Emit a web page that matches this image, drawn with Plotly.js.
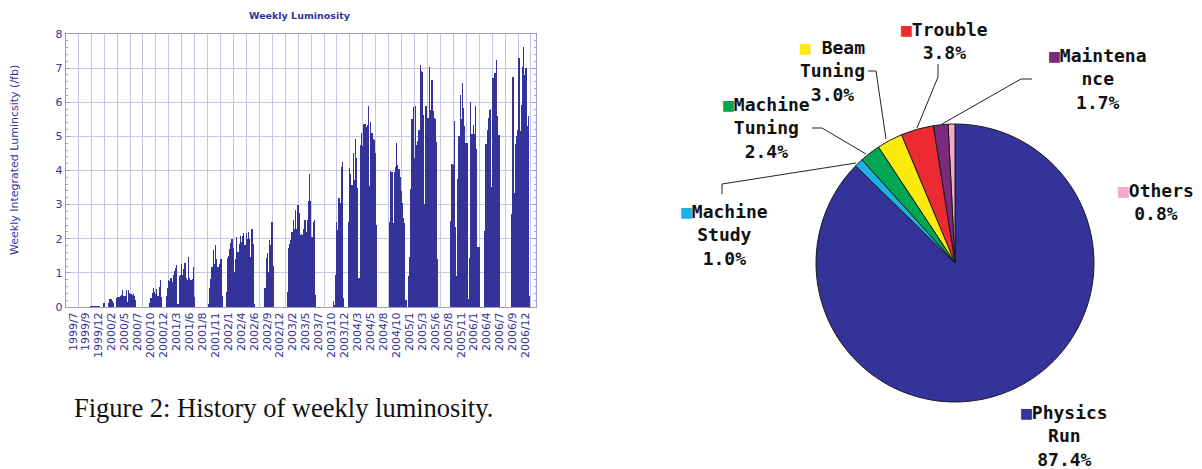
<!DOCTYPE html>
<html><head><meta charset="utf-8">
<script src="https://cdn.plot.ly/plotly-3.0.1.min.js"></script>
<style>html,body{margin:0;padding:0;background:#fff}#chart{width:1202px;height:469px}</style>
</head><body><div id="chart"></div>
<script>
const W = 1202, H = 469;
const px = x => x / W, py = y => 1 - y / H;

// ---------- Weekly luminosity (week index since 1999/7, values in /fb) ----------
const runStarts = [21, 32, 36, 43, 71, 85, 121, 136, 169, 188, 227, 228, 240, 275, 291, 327, 332, 343, 356, 379];
const run01 = [0.03, 0.03, 0.03, 0.04, 0.03, 0.03, 0.03, 0.03];
const run02 = [0.12];
const run03 = [0.13, 0.23, 0.22, 0.19, 0.11];
const run04 = [0.25, 0.28, 0.3, 0.32, 0.35, 0.49, 0.33, 0.31, 0.49, 0.15, 0.5, 0.42, 0.37, 0.36, 0.37, 0.33, 0.2];
const run05 = [0.12, 0.25, 0.42, 0.55, 0.45, 0.38, 0.52, 0.32, 0.6, 0.78, 0.3];
const run06 = [0.33, 0.55, 0.8, 0.75, 0.85, 0.72, 0.95, 1.05, 1.15, 1.22, 0.08, 0.9, 0.93, 1.25, 0.95, 1.1, 1.3, 0.85, 0.8, 1.47, 0.85, 0.8, 0.83, 1.18, 0.3];
const run07 = [0.1, 0.55, 0.83, 1.16, 1.67, 1.27, 1.81, 1.42, 1.18, 1.27, 1.42, 1.42, 0.31];
const run08 = [0.44, 1.45, 1.49, 1.7, 1.88, 2.0, 1.72, 1.03, 1.42, 2.04, 1.62, 1.85, 2.08, 1.91, 2.08, 2.16, 1.83, 2.18, 2.0, 2.2, 1.98, 1.47, 2.29, 1.85, 0.1];
const run09 = [0.57, 1.45, 1.57, 1.03, 1.96, 1.81, 2.5, 1.2];
const run10 = [0.44, 1.72, 1.85, 1.95, 2.2, 2.55, 2.3, 2.85, 2.3, 3.0, 2.75, 2.1, 2.15, 2.1, 2.3, 2.55, 2.2, 2.55, 3.1, 3.9, 3.1, 2.05, 2.5, 2.55, 0.35];
const run11 = [0.17];
const run12 = [0.05, 0.95, 2.5, 2.27, 3.2, 3.05, 4.1, 4.25, 0.25];
const run13 = [2.5, 4.08, 3.9, 3.57, 4.5, 3.72, 4.93, 4.38, 3.5, 0.85, 4.75, 5.1, 4.72, 5.35, 5.35, 5.28, 5.33, 5.9, 3.55, 5.42, 5.1, 4.93, 4.9, 4.5, 2.4];
const run14 = [2.5, 4.0, 3.97, 2.47, 3.97, 4.1, 4.82, 4.15, 4.05, 3.8, 3.4, 3.05, 2.6, 2.45, 0.2];
const run15 = [0.92, 1.47, 3.47, 5.5, 5.87, 4.38, 5.9, 4.75, 4.85, 5.2, 7.1, 6.92, 6.9, 5.62, 3.03, 5.88, 5.55, 5.55, 7.03, 5.77, 6.65, 5.74, 5.55, 5.52, 4.84, 1.4];
const run16 = [2.53, 4.2, 4.16, 5.46, 2.35];
const run17 = [0.9, 3.74, 5.0, 6.2, 5.52, 6.56, 5.83, 5.3, 4.81, 4.81, 0.23];
const run18 = [1.45, 6.0, 5.08, 5.34, 5.08, 5.88, 4.62, 1.77, 1.77];
const run19 = [2.23, 4.77, 5.18, 5.55, 5.78, 5.8, 3.52, 6.7, 6.87, 6.87, 7.23, 5.6, 5.04];
const run20 = [2.74, 6.73, 3.33, 4.77, 5.0, 5.18, 7.3, 5.17, 5.92, 7.02, 7.63, 6.8, 7.0, 5.3, 5.6, 0.32];
const runs = [run01, run02, run03, run04, run05, run06, run07, run08, run09, run10,
              run11, run12, run13, run14, run15, run16, run17, run18, run19, run20];

const tickLabels = ['1999/7','1999/9','1999/12','2000/2','2000/5','2000/7','2000/10','2000/12',
  '2001/3','2001/6','2001/8','2001/11','2002/1','2002/4','2002/6','2002/9','2002/12',
  '2003/2','2003/5','2003/7','2003/10','2003/12','2004/3','2004/5','2004/8','2004/10',
  '2005/1','2005/3','2005/6','2005/8','2005/11','2006/1','2006/4','2006/7','2006/9','2006/12'];

// ---------- Operation time breakdown ----------
const pieCategories = ['Physics Run', 'Others', 'Maintenance', 'Trouble', 'Beam Tuning', 'Machine Tuning', 'Machine Study'];
const pieValues = [87.4, 0.8, 1.7, 3.8, 3.0, 2.4, 1.0];
const pieShown = ['Physics<br>Run', 'Others', 'Maintena<br>nce', 'Trouble', ' Beam<br>Tuning', 'Machine<br>Tuning', 'Machine<br>Study'];

// ---------- build bar series ----------
const weekX = [], lumY = [];
runs.forEach((r, i) => r.forEach((v, j) => { weekX.push(runStarts[i] + j); lumY.push(v); }));

const BLUE = '#333399', GRID = '#c6c6e4', AXC = '#9c9cd0';
const pieColors = ['#333399', '#f5a9c8', '#7a2b7e', '#ec2a32', '#fbea0c', '#00a651', '#1fb0e6'];

const tickPos = tickLabels.map((_, k) => 5.7 + 11 * k);

const traces = [
  { type: 'bar', x: weekX, y: lumY, xaxis: 'x', yaxis: 'y',
    marker: { color: BLUE, line: { width: 0 } }, hoverinfo: 'x+y', showlegend: false },
  { type: 'pie', values: pieValues, labels: pieCategories, sort: false,
    direction: 'counterclockwise', rotation: 0, textinfo: 'none', hoverinfo: 'label+percent',
    marker: { colors: pieColors, line: { color: '#1a1a1a', width: 1 } },
    domain: { x: [px(816), px(1094)], y: [py(402), py(124)] }, showlegend: false }
];

const layout = {
  width: W, height: H, margin: { l: 0, r: 0, t: 0, b: 0 },
  paper_bgcolor: '#fff', plot_bgcolor: '#fff', bargap: 0, showlegend: false,
  font: { family: 'DejaVu Sans', color: BLUE },
  xaxis: {
    domain: [px(65.7), px(536)], range: [-0.5, 399.5], anchor: 'y',
    tickmode: 'array', tickvals: tickPos, ticktext: tickLabels, tickangle: -90,
    tickfont: { family: 'DejaVu Sans', size: 11, color: BLUE }, ticks: '',
    showgrid: false, zeroline: false, showline: true, linecolor: AXC, linewidth: 1, mirror: true,
    minor: { tick0: 10.2, dtick: 11, showgrid: true, gridcolor: GRID, gridwidth: 1, ticks: '' }
  },
  xaxis2: {
    overlaying: 'x', matches: 'x', range: [-0.5, 399.5], side: 'top', anchor: 'y',
    showticklabels: false, showgrid: false, zeroline: false, ticks: 'inside', ticklen: 2,
    tickcolor: AXC, tick0: 0, dtick: 2.5, mirror: 'ticks', showline: false
  },
  yaxis: {
    domain: [py(307), py(34)], range: [0, 8], dtick: 1, anchor: 'x',
    tickfont: { family: 'DejaVu Sans', size: 11, color: BLUE },
    showgrid: true, gridcolor: GRID, gridwidth: 1, zeroline: false,
    showline: true, linecolor: AXC, linewidth: 1, mirror: 'ticks',
    ticks: 'inside', ticklen: 4, tickcolor: AXC,
    minor: { dtick: 0.2, ticks: 'inside', ticklen: 2, tickcolor: AXC, showgrid: false }
  },
  annotations: [
    { text: '<b>Weekly Luminosity</b>', x: px(300), y: py(16), xref: 'paper', yref: 'paper',
      xanchor: 'center', yanchor: 'middle', showarrow: false,
      font: { family: 'DejaVu Sans', size: 9.5, color: BLUE } },
    { text: 'Weekly Integrated Lumincsity (/fb)', x: px(15), y: py(160), xref: 'paper', yref: 'paper',
      textangle: -90, xanchor: 'center', yanchor: 'middle', showarrow: false,
      font: { family: 'DejaVu Sans', size: 11, color: BLUE } },
    { text: 'Figure 2: History of weekly luminosity.', x: px(72), y: py(408), xref: 'paper', yref: 'paper',
      xanchor: 'left', yanchor: 'middle', showarrow: false,
      font: { family: 'Liberation Serif', size: 26.5, color: '#111' } }
  ],
  shapes: []
};

// pie label annotations (positions in pixels)
const labelPos = [[1064, 436], [1156, 202], [1098, 79], [944, 41], [832, 71], [766, 128], [724, 235]];
pieCategories.forEach((c, i) => {
  layout.annotations.push({
    text: `<span style="color:${pieColors[i]}">■</span>` + pieShown[i] + '<br>' + pieValues[i].toFixed(1) + '%',
    x: px(labelPos[i][0]), y: py(labelPos[i][1]), xref: 'paper', yref: 'paper',
    xanchor: 'center', yanchor: 'middle', align: 'center', showarrow: false,
    font: { family: 'DejaVu Sans Mono', size: 18, color: '#111', weight: 'bold' }
  });
});

// leader lines (pixel polylines)
const leaders = [
  [[868, 71], [876, 71], [886, 139]],
  [[938, 64], [938, 77], [917, 128]],
  [[1032, 79], [1021, 79], [942, 124]],
  [[812, 128], [822, 128], [866, 154]],
  [[722, 194], [722, 184], [856, 163]]
];
leaders.forEach(pts => {
  layout.shapes.push({
    type: 'path', xref: 'paper', yref: 'paper',
    path: pts.map((p, i) => (i ? 'L' : 'M') + px(p[0]) + ',' + py(p[1])).join(' '),
    line: { color: '#222', width: 1 }
  });
});

Plotly.newPlot('chart', traces, layout, { displayModeBar: false, staticPlot: true });
</script>
</body></html>
